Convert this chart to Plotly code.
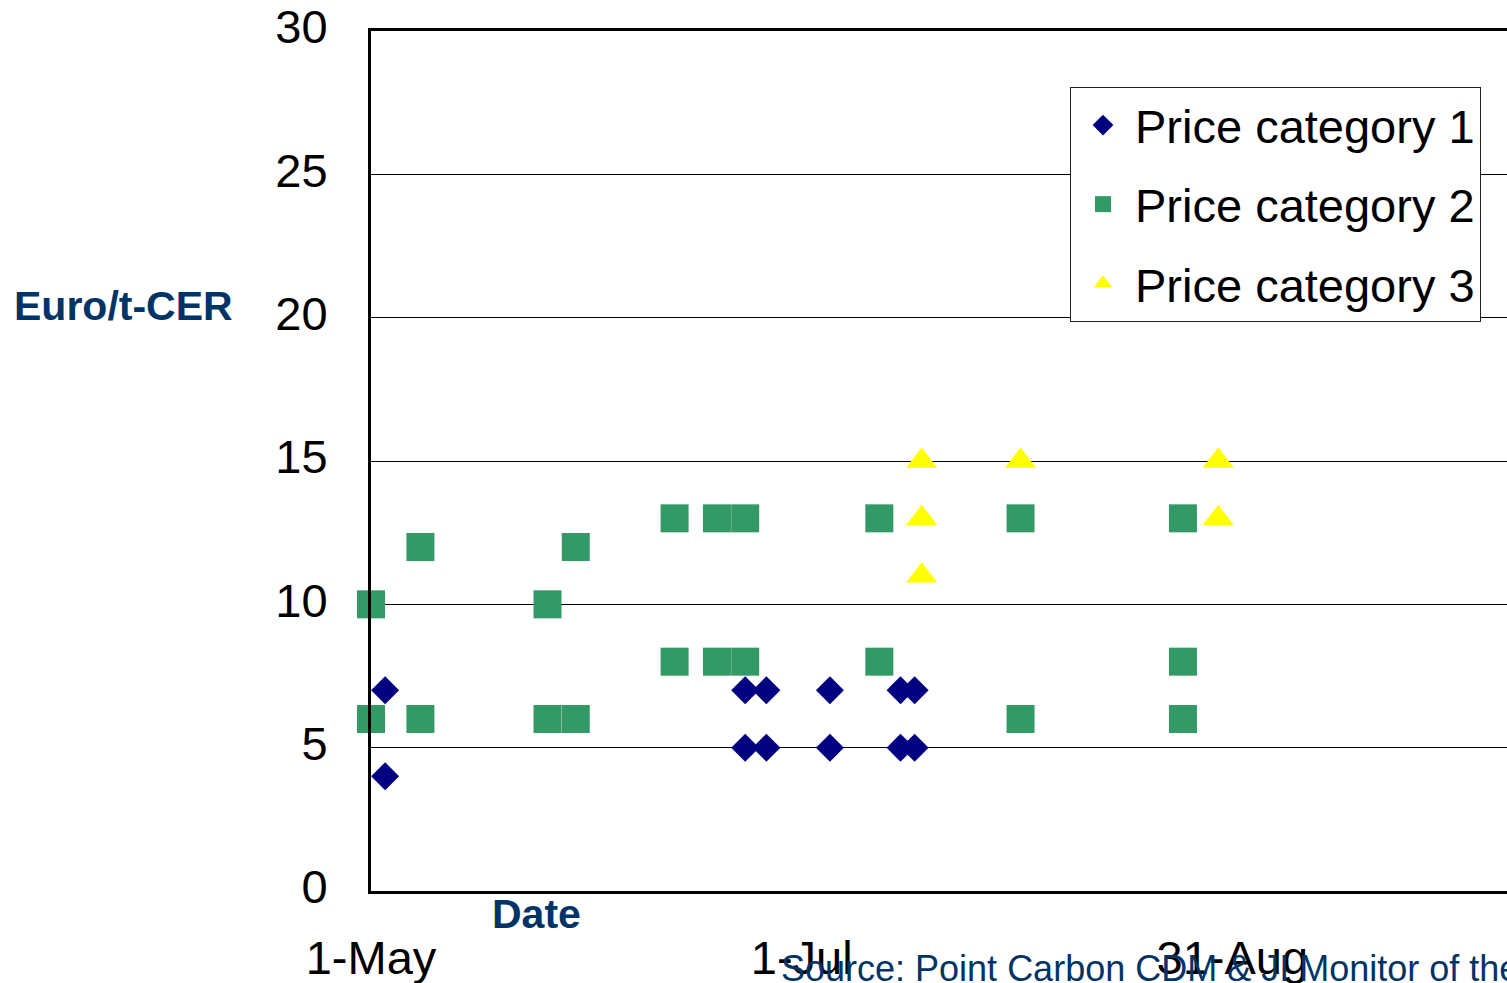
import plotly.graph_objects as go
import pandas as pd

# ---------------- data ----------------
cat1_dates = ["2004-05-03", "2004-05-03", "2004-06-23", "2004-06-23",
              "2004-06-26", "2004-06-26", "2004-07-05", "2004-07-05",
              "2004-07-15", "2004-07-15", "2004-07-17", "2004-07-17"]
cat1_prices = [7, 4, 7, 5, 7, 5, 7, 5, 7, 5, 7, 5]

cat2_dates = ["2004-05-01", "2004-05-01", "2004-05-08", "2004-05-08",
              "2004-05-26", "2004-05-26", "2004-05-30", "2004-05-30",
              "2004-06-13", "2004-06-13", "2004-06-19", "2004-06-19",
              "2004-06-23", "2004-06-23", "2004-07-12", "2004-07-12",
              "2004-08-01", "2004-08-01", "2004-08-24", "2004-08-24",
              "2004-08-24"]
cat2_prices = [10, 6, 12, 6, 10, 6, 12, 6, 13, 8, 13, 8, 13, 8, 13, 8,
               13, 6, 13, 8, 6]

cat3_dates = ["2004-07-18", "2004-07-18", "2004-07-18", "2004-08-01",
              "2004-08-29", "2004-08-29"]
cat3_prices = [15, 13, 11, 15, 15, 13]

series_names = ["Price category 1", "Price category 2", "Price category 3"]
tick_dates = ["2004-05-01", "2004-07-01", "2004-08-31"]
tick_labels = ["1-May", "1-Jul", "31-Aug"]

# ---------------- layout geometry ----------------
W, H = 1507, 983
L, T, R, B = 371, 31, 0, 92
PW, PH = W - L - R, H - T - B
FONT = "Liberation Sans, Arial, sans-serif"
NAVY_TXT = "#003366"


def px(x):
    return (x - L) / PW


def py(y):
    return (H - B - y) / PH


x_start = pd.Timestamp("2004-05-01")
x_end = x_start + pd.Timedelta(days=160.9)

fig = go.Figure()
fig.add_trace(go.Scatter(
    x=cat1_dates, y=cat1_prices, mode="markers", name=series_names[0],
    legendgroup="g1", cliponaxis=False,
    marker=dict(symbol="diamond", size=21.5, color="#000080", line=dict(width=0))))
fig.add_trace(go.Scatter(
    x=cat2_dates, y=cat2_prices, mode="markers", name=series_names[1],
    legendgroup="g2", cliponaxis=False,
    marker=dict(symbol="square", size=28, color="#339966", line=dict(width=0))))
fig.add_trace(go.Scatter(
    x=cat3_dates, y=cat3_prices, mode="markers", name=series_names[2],
    legendgroup="g3", cliponaxis=False,
    marker=dict(symbol="triangle-up", size=27, color="#FFFF00", line=dict(width=0))))

fig.update_layout(
    width=W, height=H,
    margin=dict(l=L, r=R, t=T, b=B, pad=0, autoexpand=False),
    paper_bgcolor="white", plot_bgcolor="white",
    font=dict(family=FONT, color="black", size=44),
    showlegend=True,
    legend=dict(
        x=px(1070), y=py(87), xanchor="left", yanchor="top",
        bgcolor="white", bordercolor="#222222", borderwidth=1,
        font=dict(family=FONT, size=47, color="black"),
        tracegroupgap=15, itemwidth=54,
    ),
    xaxis=dict(
        type="date", range=[x_start, x_end], automargin=False,
        tickmode="array", tickvals=tick_dates, ticktext=tick_labels,
        showgrid=False, zeroline=False,
        showline=True, linecolor="black", linewidth=3, mirror=True,
        ticks="", ticklabelstandoff=24,
        tickfont=dict(family=FONT, size=47, color="black"),
    ),
    yaxis=dict(
        range=[0, 30], tickmode="linear", tick0=0, dtick=5, automargin=False,
        showgrid=True, gridcolor="black", gridwidth=1, zeroline=False,
        showline=True, linecolor="black", linewidth=3, mirror=False,
        ticks="", ticklabelstandoff=31, ticklabelshift=-4,
        tickfont=dict(family=FONT, size=47, color="black"),
    ),
    annotations=[
        dict(text="<b>Euro/t-CER</b>", x=px(123), y=py(306), xref="paper", yref="paper",
             xanchor="center", yanchor="middle", showarrow=False,
             font=dict(family=FONT, size=41, color=NAVY_TXT)),
        dict(text="<b>Date</b>", x=px(536), y=py(914), xref="paper", yref="paper",
             xanchor="center", yanchor="middle", showarrow=False,
             font=dict(family=FONT, size=41, color=NAVY_TXT)),
        dict(text="Source: Point Carbon CDM & JI Monitor of the World Bank", x=px(779), y=py(968),
             xref="paper", yref="paper",
             xanchor="left", yanchor="middle", showarrow=False,
             font=dict(family=FONT, size=36, color=NAVY_TXT)),
    ],
)

fig.write_html(
    "out.html",
    config={"displayModeBar": False, "staticPlot": True},
    post_script=("document.documentElement.style.margin='0';"
                 "document.documentElement.style.overflow='hidden';"
                 "document.body.style.margin='0';"
                 "document.body.style.overflow='hidden';"),
)
